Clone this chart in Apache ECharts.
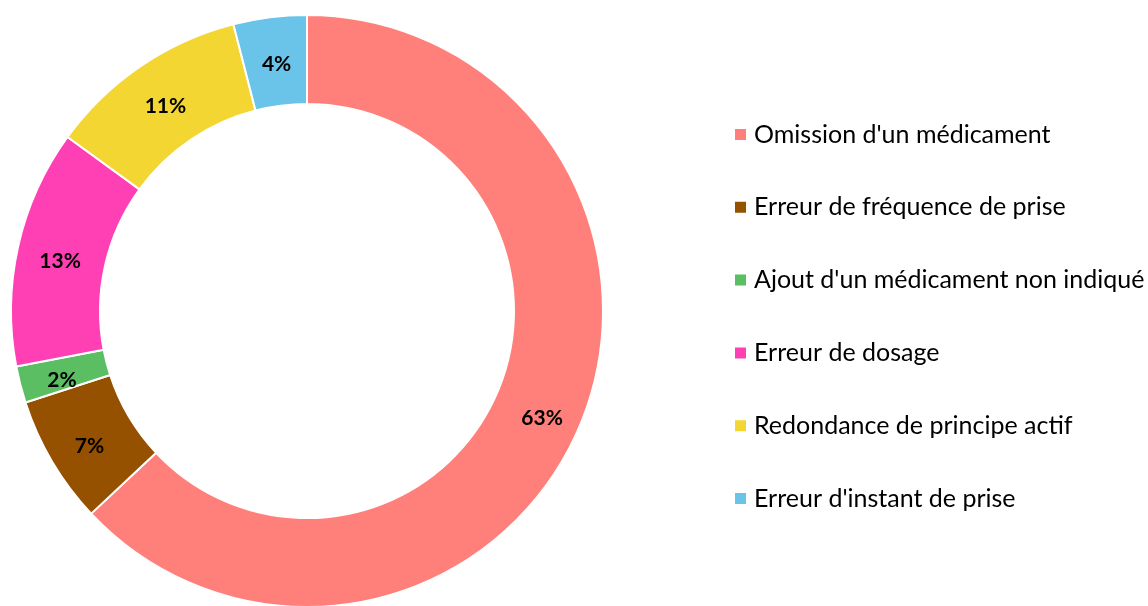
<!DOCTYPE html>
<html>
<head>
<meta charset="utf-8">
<script src="https://cdn.jsdelivr.net/npm/echarts@6/dist/echarts.min.js"></script>
<style>
  html, body { margin: 0; padding: 0; background: #fff; }
  #chart { width: 1148px; height: 606px; }
</style>
</head>
<body>
<div id="chart"></div>
<script>
// categories and shares (%)
var categories = [
  "Omission d'un médicament",
  "Erreur de fréquence de prise",
  "Ajout d'un médicament non indiqué",
  "Erreur de dosage",
  "Redondance de principe actif",
  "Erreur d'instant de prise"
];
var shares = [63, 7, 2, 13, 11, 4];
var colors = ['#FF7F7A', '#955000', '#5BBE63', '#FF40B4', '#F4D633', '#6AC3E8'];

var myChart = echarts.init(document.getElementById('chart'));

var data = categories.map(function (name, i) {
  return { name: name, value: shares[i], itemStyle: { color: colors[i] } };
});

var option = {
  animation: false,
  legend: {
    orient: 'vertical',
    left: 728,
    top: 117,
    icon: 'rect',
    itemWidth: 13,
    itemHeight: 13,
    itemGap: 47.8,
    selectedMode: false,
    textStyle: {
      fontFamily: 'Lato',
      fontSize: 25,
      lineHeight: 25,
      color: '#000',
      padding: [0, 0, 0, 2]
    },
    data: categories
  },
  series: [{
    type: 'pie',
    center: [307, 311],
    radius: [207, 296],
    startAngle: 90,
    clockwise: true,
    itemStyle: { borderColor: '#fff', borderWidth: 2 },
    label: {
      position: 'inside',
      formatter: function (p) { return '{v|' + p.value + '%}'; },
      rich: {
        v: {
          fontFamily: 'Lato',
          fontWeight: 'bold',
          fontSize: 21,
          color: '#000',
          padding: [12, 0, 0, 3]
        }
      }
    },
    labelLine: { show: false },
    emphasis: { disabled: true },
    data: data
  }]
};
myChart.setOption(option);
</script>
</body>
</html>
